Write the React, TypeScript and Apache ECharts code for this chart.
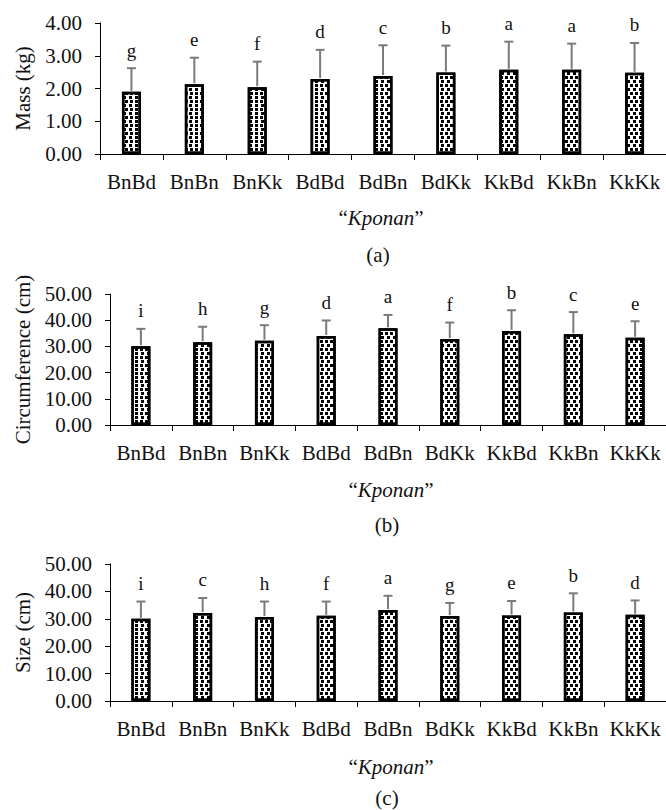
import React, { useEffect, useRef } from "react";
import * as echarts from "echarts";

const categories = ["BnBd", "BnBn", "BnKk", "BdBd", "BdBn", "BdKk", "KkBd", "KkBn", "KkKk"];

const massMean = [1.9, 2.13, 2.04, 2.29, 2.38, 2.49, 2.57, 2.57, 2.48];
const massSd = [0.72, 0.81, 0.78, 0.89, 0.94, 0.82, 0.86, 0.8, 0.91];
const massLetters = ["g", "e", "f", "d", "c", "b", "a", "a", "b"];

const circMean = [30.1, 31.6, 32.2, 34.0, 36.9, 32.8, 35.9, 34.6, 33.3];
const circSd = [6.6, 5.9, 5.9, 5.9, 5.1, 6.3, 7.9, 8.5, 6.3];
const circLetters = ["i", "h", "g", "d", "a", "f", "b", "c", "e"];

const sizeMean = [30.0, 32.1, 30.7, 31.1, 33.2, 31.0, 31.2, 32.3, 31.5];
const sizeSd = [6.3, 5.5, 5.6, 5.2, 5.2, 4.8, 5.3, 7.0, 5.2];
const sizeLetters = ["i", "c", "h", "f", "a", "g", "e", "b", "d"];

const yNames = ["Mass (kg)", "Circumference (cm)", "Size (cm)"];
const yMax = [4, 50, 50];
const yInterval = [1, 10, 10];
const panelTags = ["(a)", "(b)", "(c)"];

const FONT = "'Liberation Serif', 'Times New Roman', serif";

const panels = [
  { mean: massMean, sd: massSd, letters: massLetters },
  { mean: circMean, sd: circSd, letters: circLetters },
  { mean: sizeMean, sd: sizeSd, letters: sizeLetters },
];

const layout = [
  { left: 100, top: 23, height: 131, width: 572, nameGap: 67, kx: 381, ky: 218, tx: 378, ty: 255 },
  { left: 110, top: 294, height: 131, width: 562, nameGap: 77, kx: 391, ky: 490, tx: 387, ty: 525 },
  { left: 110, top: 564, height: 137, width: 562, nameGap: 77, kx: 391, ky: 767, tx: 387, ty: 798 },
];

function buildOption() {
  const grid: any[] = [];
  const xAxis: any[] = [];
  const yAxis: any[] = [];
  const series: any[] = [];
  const graphic: any[] = [];

  panels.forEach((p, k) => {
    const L = layout[k];
    grid.push({ left: L.left, top: L.top, width: L.width, height: L.height, containLabel: false });
    xAxis.push({
      type: "category",
      gridIndex: k,
      data: categories,
      boundaryGap: true,
      axisLine: { lineStyle: { color: "#000", width: 1 } },
      axisTick: { show: true, length: 6, lineStyle: { color: "#000" } },
      axisLabel: { color: "#111", fontSize: 21, fontFamily: FONT, margin: 17, interval: 0 },
      splitLine: { show: false },
    });
    yAxis.push({
      type: "value",
      gridIndex: k,
      min: 0,
      max: yMax[k],
      interval: yInterval[k],
      name: yNames[k],
      nameLocation: "middle",
      nameGap: L.nameGap,
      nameTextStyle: { color: "#111", fontSize: 21, fontFamily: FONT },
      axisLine: { show: true, lineStyle: { color: "#000", width: 1 } },
      axisTick: { show: true, length: 5, lineStyle: { color: "#000" } },
      axisLabel: {
        color: "#111",
        fontSize: 21,
        fontFamily: FONT,
        margin: 18,
        formatter: (v: number) => v.toFixed(2),
      },
      splitLine: { show: false },
    });
    series.push({
      type: "bar",
      xAxisIndex: k,
      yAxisIndex: k,
      data: p.mean,
      barWidth: 19,
      itemStyle: {
        color: "#fff",
        borderColor: "#000",
        borderWidth: 2.5,
        decal: {
          symbol: "rect",
          symbolSize: 1,
          color: "#000",
          dashArrayX: [[2.5, 2], [0, 2.25, 2.25, 0]],
          dashArrayY: [2.5, 1],
          rotation: 0,
        },
      },
    });
    const letters = p.letters;
    series.push({
      type: "custom",
      xAxisIndex: k,
      yAxisIndex: k,
      data: categories.map((c, i) => [i, p.mean[i], p.sd[i]]),
      encode: { x: 0, y: 1 },
      z: 5,
      renderItem: (params: any, api: any) => {
        const idx = api.value(0);
        const m = api.value(1);
        const s = api.value(2);
        const base = api.coord([idx, m]);
        const top = api.coord([idx, m + s]);
        const stroke = { stroke: "#7a7a7a", lineWidth: 2 };
        return {
          type: "group",
          children: [
            { type: "line", shape: { x1: base[0], y1: base[1] - 1, x2: top[0], y2: top[1] }, style: stroke },
            { type: "line", shape: { x1: top[0] - 4.5, y1: top[1], x2: top[0] + 4.5, y2: top[1] }, style: stroke },
            {
              type: "text",
              x: top[0],
              y: top[1] - 18,
              style: {
                text: letters[params.dataIndex],
                fill: "#111",
                fontSize: 19,
                fontFamily: FONT,
                align: "center",
                verticalAlign: "middle",
              },
            },
          ],
        };
      },
    });
    graphic.push({
      type: "text",
      x: L.kx,
      y: L.ky,
      style: {
        text: "“{i|Kponan}”",
        fill: "#111",
        fontSize: 21,
        fontFamily: FONT,
        align: "center",
        verticalAlign: "middle",
        rich: { i: { fontStyle: "italic", fontSize: 21, fontFamily: FONT, fill: "#111" } },
      },
    });
    graphic.push({
      type: "text",
      x: L.tx,
      y: L.ty,
      style: {
        text: panelTags[k],
        fill: "#111",
        fontSize: 21,
        fontFamily: FONT,
        align: "center",
        verticalAlign: "middle",
      },
    });
  });

  return {
    animation: false,
    backgroundColor: "#fff",
    grid,
    xAxis,
    yAxis,
    series,
    graphic,
  };
}

export default function App() {
  const ref = useRef<HTMLDivElement>(null);
  useEffect(() => {
    if (!ref.current) return;
    const chart = echarts.init(ref.current, undefined, { renderer: "svg" });
    chart.setOption(buildOption() as any);
    return () => chart.dispose();
  }, []);
  return (
    <div
      ref={ref}
      style={{ position: "fixed", left: 0, top: 0, width: 666, height: 810, background: "#fff" }}
    />
  );
}
